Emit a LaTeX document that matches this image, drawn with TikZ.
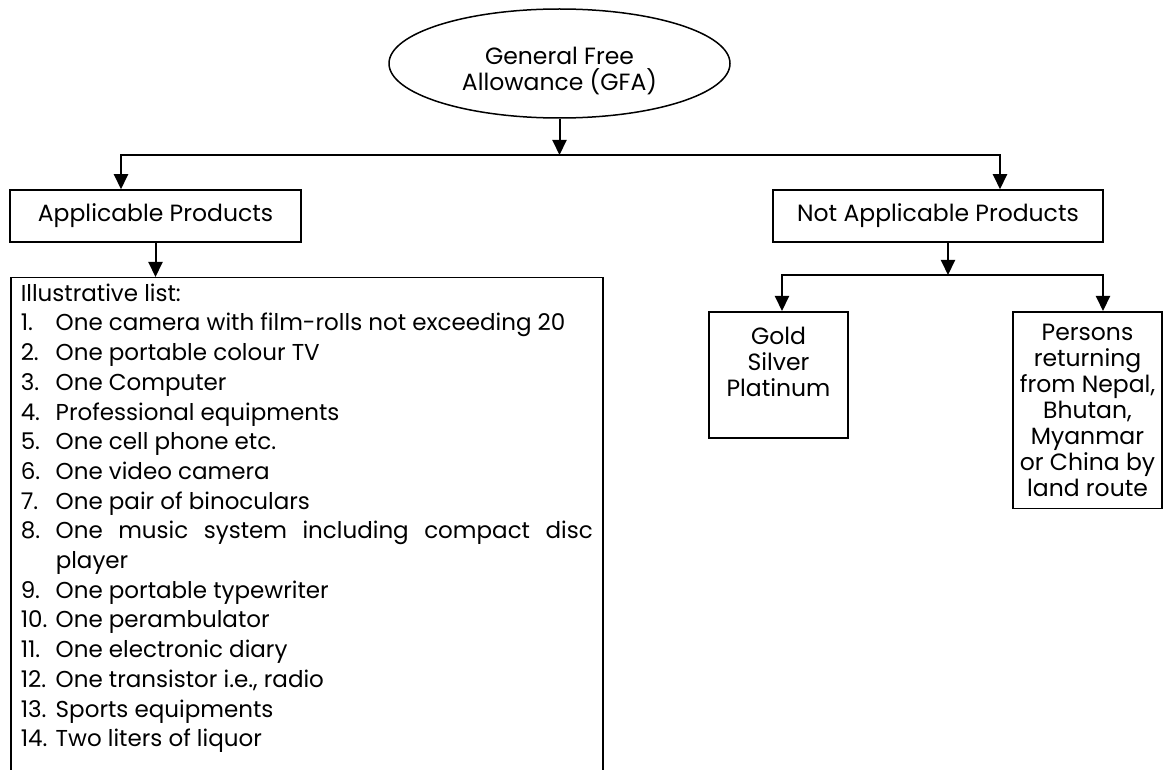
\documentclass[tikz,border=0pt]{standalone}
\usepackage{fontspec}
\setmainfont{Poppins}
\usetikzlibrary{arrows.meta, positioning, shapes.geometric, calc}
\newcommand{\gfafont}{\fontsize{23.5}{26}\selectfont}
\newcommand{\listfont}{\fontsize{23}{29.7}\selectfont}
\newcommand{\gfaitem}[2]{\par\noindent\hangindent=35pt\hangafter=1\makebox[35pt][l]{#1.}#2}
\tikzset{
  box/.style   = {draw, line width=1.5pt, align=center, inner sep=3pt, font=\gfafont},
  arrow/.style = {-{Triangle[width=14pt,length=15pt]}, line width=2pt},
}

\begin{document}
\begin{tikzpicture}[x=1pt, y=-1pt,
    oval/.style={ellipse, draw, line width=1.5pt, minimum width=341pt,
                 minimum height=109pt, align=center, font=\gfafont},
    list/.style={draw, line width=1.5pt, anchor=north west, text width=572pt,
                 inner xsep=10pt, inner ysep=6pt, align=justify, font=\listfont}
]
\useasboundingbox (0,0) rectangle (1168,770);

% upper level
\node[oval] (gfa) at (559.5,63.5) {\rule{0pt}{33pt}General Free\\Allowance (GFA)};
\node[box, minimum width=291pt, minimum height=52pt] (app) at (155.5,216) {Applicable Products};
\node[box, minimum width=330pt, minimum height=52pt] (notapp) at (938,216) {Not Applicable Products};

% the illustrative list
\node[list] (list) at (10,277) {%
  Illustrative list:
  \gfaitem{1}{One camera with film-rolls not exceeding 20}
  \gfaitem{2}{One portable colour TV}
  \gfaitem{3}{One Computer}
  \gfaitem{4}{Professional equipments}
  \gfaitem{5}{One cell phone etc.}
  \gfaitem{6}{One video camera}
  \gfaitem{7}{One pair of binoculars}
  \gfaitem{8}{One music system including compact disc\linebreak player}
  \gfaitem{9}{One portable typewriter}
  \gfaitem{10}{One perambulator}
  \gfaitem{11}{One electronic diary}
  \gfaitem{12}{One transistor i.e., radio}
  \gfaitem{13}{Sports equipments}
  \gfaitem{14}{Two liters of liquor}
  \par\noindent\rule{0pt}{60pt}};

% not applicable branch
\node[box, anchor=north, minimum width=139pt, minimum height=126pt] (gold) at (778.5,311)
  {Gold\\Silver\\Platinum\\\mbox{}};
\node[box, anchor=north, minimum width=149pt, inner ysep=12pt] (persons) at (1087.5,311)
  {Persons\\returning\\from Nepal,\\Bhutan,\\Myanmar\\or China by\\land route};

% connectors
\coordinate (split) at (559.5,155);
\draw[arrow] (gfa.south) -- (split);
\draw[arrow] (split) -| ([xshift=-34.5pt]app.north);
\draw[arrow] (split) -| ([xshift=62pt]notapp.north);
\draw[arrow] (app.south) -- (list.north -| app.south);
\coordinate (fork) at ([xshift=10pt]notapp.south |- 0,275);
\draw[arrow] ([xshift=10pt]notapp.south) -- (fork);
\draw[arrow] (fork) -| ([xshift=3.5pt]gold.north);
\draw[arrow] (fork) -| ([xshift=15.5pt]persons.north);
\end{tikzpicture}
\end{document}
